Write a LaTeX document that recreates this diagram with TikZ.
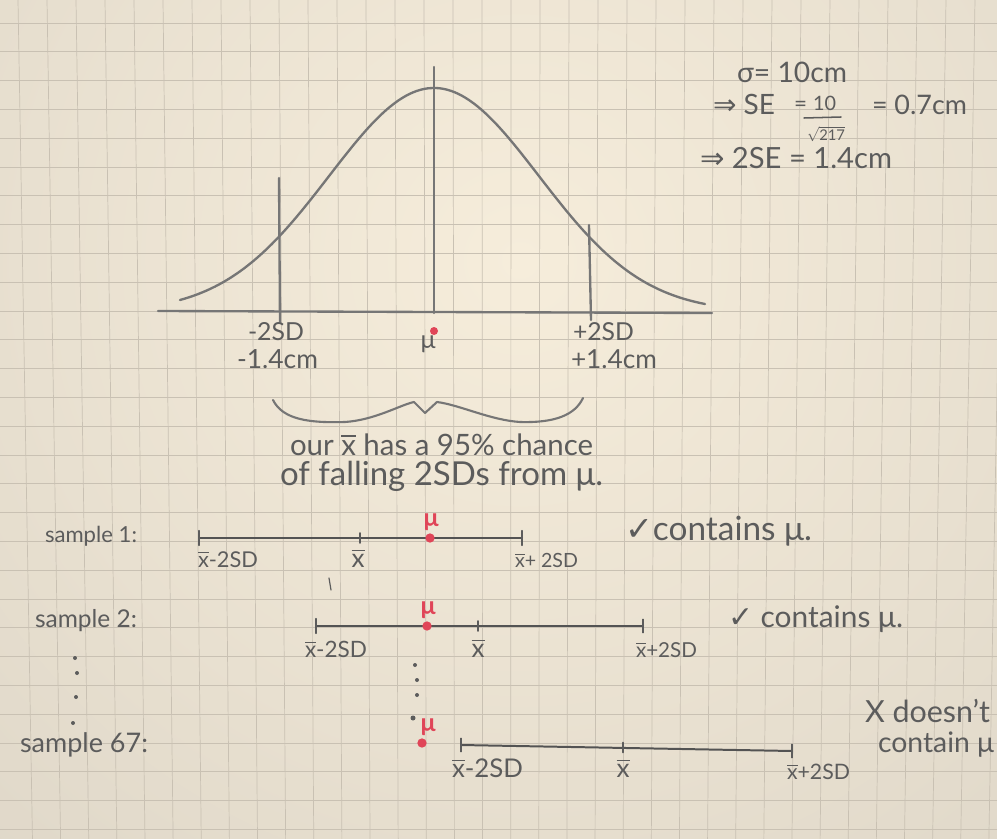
\documentclass[tikz,border=0pt]{standalone}
\usepackage{fontspec}
\setmainfont{Lato}
\newfontfamily\symf{DejaVu Sans}
\usepackage{graphicx}
\newlength\pxu
\setlength\pxu{0.03cm}
\newcommand\hw[2]{\resizebox{#1\pxu}{!}{#2}}
\newcommand\xbarT{$\overline{\mbox{x}}$}
\definecolor{paperC}{HTML}{F6EDDB}
\definecolor{paperE}{HTML}{D3CCBF}
\definecolor{gridC}{HTML}{C9C1B3}
\definecolor{penC}{HTML}{767676}
\definecolor{inkC}{HTML}{5C5C5C}
\definecolor{redC}{HTML}{E04558}
\begin{document}
\begin{tikzpicture}[x=0.03cm,y=-0.03cm,
  pen/.style={draw=penC,line width=2pt,line cap=round,line join=round},
  seg/.style={draw=inkC!90!black,line width=1.7pt,line cap=round},
  tickm/.style={draw=inkC,line width=1.3pt,line cap=round},
  hand/.style={inner sep=0pt,outer sep=0pt,text=inkC,anchor=base west},
  handc/.style={hand,anchor=base},
  redmu/.style={inner sep=0pt,outer sep=0pt,text=redC,anchor=base},
  reddot/.style={circle,fill=redC,inner sep=0pt,minimum size=0.28cm},
  dotk/.style={circle,fill=inkC,inner sep=0pt,minimum size=0.12cm},
  gridline/.style={draw=gridC,line width=0.6pt}]
\useasboundingbox (0,0) rectangle (997,839);
% paper
\begin{scope}
\clip (0,0) rectangle (997,839);
\fill[paperE] (0,0) rectangle (997,839);
\shade[inner color=paperC,outer color=paperE] (520,260) circle (1250);
\foreach \i in {0,...,34}{
  \pgfmathsetmacro\xtop{18+29*\i}
  \pgfmathsetmacro\xbot{\xtop+(500-\xtop)*0.03}
  \draw[gridline] (\xtop,0) -- (\xbot,839);}
\foreach \j in {0,...,29}{
  \draw[gridline] (0,{23+28.8*\j}) -- (997,{23+28.8*\j});}
\end{scope}
% bell curve
\draw[pen] plot[domain=180:705,samples=90,smooth] (\x,{312-224*exp(-0.5*((\x-434)/105)*((\x-434)/105))});
\coordinate (axL) at (158,311);
\coordinate (axR) at (712,313);
\draw[pen] (axL) -- (axR);
\coordinate (vcT) at (434,67);
\coordinate (vcB) at (434,313);
\coordinate (vlT) at (279,178);
\coordinate (vlB) at (280,322);
\coordinate (vrT) at (589,225);
\coordinate (vrB) at (591,320);
\draw[pen] (vcT) -- (vcB);
\draw[pen] (vlT) -- (vlB);
\draw[pen] (vrT) -- (vrB);
\node[reddot,minimum size=0.24cm] (mu0) at (434,331) {};
% axis labels
\node[hand] (m2sd) at (248,340) {\hw{56}{-2SD}};
\node[hand] (m14) at (237,368) {\hw{81}{-1.4cm}};
\node[handc] (mulab) at (428,348) {\hw{15}{μ}};
\node[hand] (p2sd) at (573,340) {\hw{61}{+2SD}};
\node[hand] (p14) at (571,368) {\hw{86}{+1.4cm}};
% formulas top right
\node[hand] (sig) at (737,82) {\hw{110}{σ= 10cm}};
\node[hand] (se) at (713,114) {\hw{62}{{\symf ⇒} SE}};
\node[hand] (eqa) at (794,111) {\hw{13}{=}};
\node[hand] (ten) at (813,110) {\hw{23}{10}};
\coordinate (fbL) at (804,118);
\coordinate (fbR) at (841,117);
\draw[tickm] (fbL) -- (fbR);
\node[handc] (rt) at (826,140) {\hw{38}{$\sqrt{\mbox{217}}$}};
\node[hand] (seval) at (872,114) {\hw{95}{= 0.7cm}};
\node[hand] (twose) at (700,168) {\hw{192}{{\symf ⇒} 2SE = 1.4cm}};
% brace
\draw[pen,line width=1.8pt] (273,400) .. controls (283,420) and (310,423) .. (345,422)
  .. controls (375,420) and (400,405) .. (414,402) -- (425,413) -- (437,402)
  .. controls (460,405) and (490,420) .. (520,422)
  .. controls (555,423) and (575,415) .. (583,398);
\node[hand] (txt1) at (290,455) {\hw{303}{our \xbarT\ has a 95\% chance}};
\node[hand] (txt2) at (280,485) {\hw{323}{of falling 2SDs from μ.}};
% sample 1
\node[hand] (s1) at (45,542) {\hw{92}{sample 1:}};
\coordinate (s1l) at (199,538);
\coordinate (s1r) at (522,538);
\coordinate (s1x) at (360,538);
\draw[seg] (s1l) -- (s1r);
\draw[tickm] ([yshift=-0.22cm]s1l) -- ([yshift=0.22cm]s1l);
\draw[tickm] ([yshift=-0.22cm]s1r) -- ([yshift=0.22cm]s1r);
\draw[tickm] ([yshift=-0.15cm]s1x) -- ([yshift=0.15cm]s1x);
\node[reddot] (mu1) at (430,538) {};
\node[redmu] (mu1t) at (431,526) {\hw{15}{\bfseries μ}};
\node[hand] (s1a) at (198,567) {\hw{60}{\xbarT-2SD}};
\node[handc] (s1b) at (358,567) {\hw{13}{\xbarT}};
\node[hand] (s1c) at (515,567) {\hw{63}{\xbarT+ 2SD}};
\node[hand] (c1) at (625,540) {\hw{187}{{\symf ✓}contains μ.}};
\coordinate (stA) at (329,578);
\coordinate (stB) at (331,590);
\draw[tickm,line width=1pt] (stA) -- (stB);
% sample 2
\node[hand] (s2) at (35,627) {\hw{102}{sample 2:}};
\coordinate (s2l) at (316,626);
\coordinate (s2r) at (643,626);
\coordinate (s2x) at (478,626);
\draw[seg] (s2l) -- (s2r);
\draw[tickm] ([yshift=-0.22cm]s2l) -- ([yshift=0.22cm]s2l);
\draw[tickm] ([yshift=-0.2cm]s2r) -- ([yshift=0.2cm]s2r);
\draw[tickm] ([yshift=-0.15cm]s2x) -- ([yshift=0.15cm]s2x);
\node[reddot] (mu2) at (427,626) {};
\node[redmu] (mu2t) at (428,614) {\hw{15}{\bfseries μ}};
\node[hand] (s2a) at (305,657) {\hw{62}{\xbarT-2SD}};
\node[handc] (s2b) at (478,657) {\hw{13}{\xbarT}};
\node[hand] (s2c) at (636,657) {\hw{61}{\xbarT+2SD}};
\node[hand] (c2) at (728,627) {\hw{175}{{\symf ✓} contains μ.}};
% dots
\node[dotk] (d1) at (75,658) {};
\node[dotk] (d2) at (77,673) {};
\node[dotk] (d3) at (76,697) {};
\node[dotk] (d4) at (73,723) {};
\node[dotk] (e1) at (415,665) {};
\node[dotk] (e2) at (417,680) {};
\node[dotk] (e3) at (417,695) {};
\node[dotk,minimum size=0.15cm] (e4) at (413,718) {};
% sample 67
\node[hand] (s67) at (20,752) {\hw{128}{sample 67:}};
\node[reddot] (mu3) at (422,743) {};
\node[redmu] (mu3t) at (428,731) {\hw{15}{\bfseries μ}};
\coordinate (s3l) at (461,745);
\coordinate (s3r) at (792,751);
\coordinate (s3x) at (623,747.5);
\draw[seg] (s3l) -- (s3r);
\draw[tickm] ([yshift=-0.2cm]s3l) -- ([yshift=0.2cm]s3l);
\draw[tickm] ([yshift=-0.2cm]s3r) -- ([yshift=0.2cm]s3r);
\draw[tickm] ([yshift=-0.15cm]s3x) -- ([yshift=0.15cm]s3x);
\node[hand] (s3a) at (452,777) {\hw{71}{\xbarT-2SD}};
\node[handc] (s3b) at (623,777) {\hw{13}{\xbarT}};
\node[hand] (s3c) at (787,779) {\hw{63}{\xbarT+2SD}};
\node[hand] (c3a) at (865,722) {\hw{125}{X doesn't}};
\node[hand] (c3b) at (878,752) {\hw{116}{contain μ}};
\end{tikzpicture}
\end{document}
